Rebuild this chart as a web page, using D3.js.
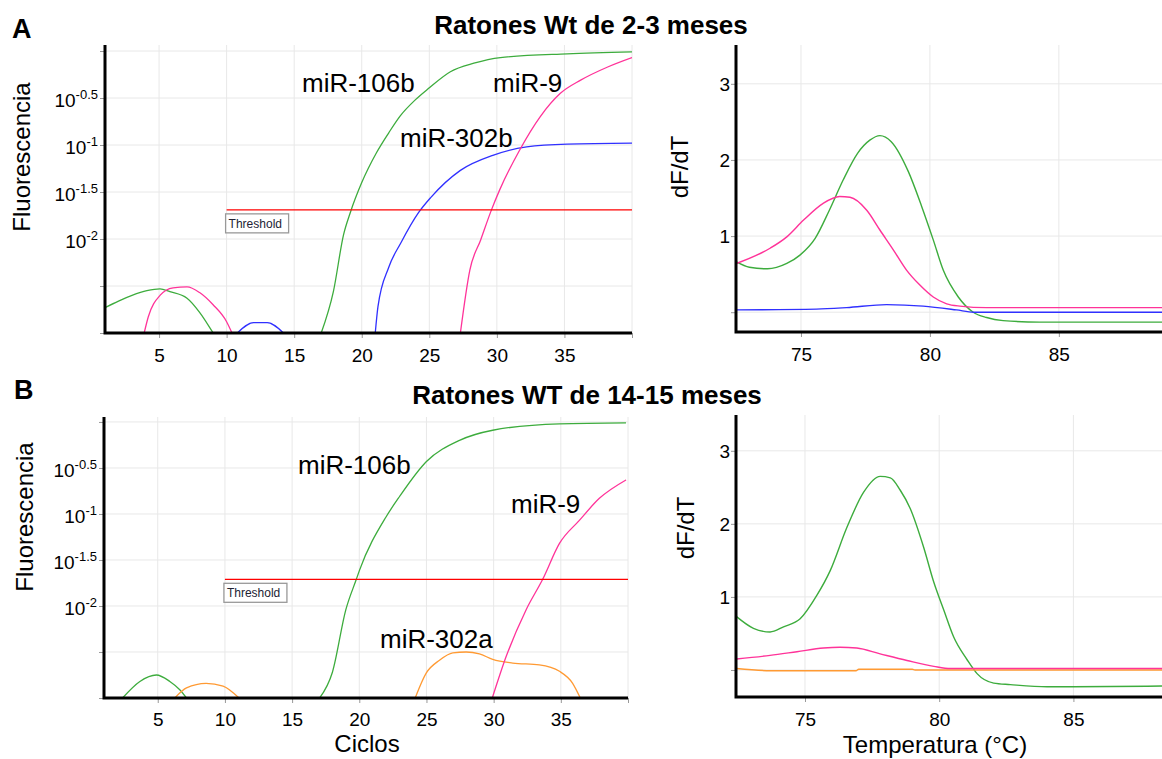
<!DOCTYPE html>
<html>
<head>
<meta charset="utf-8">
<script src="https://cdn.jsdelivr.net/npm/d3@7"></script>
<style>
  body { margin: 0; background: #fff; }
  svg { font-family: "Liberation Sans", Arial, sans-serif; }
</style>
</head>
<body>
<svg id="chart" width="1162" height="759"></svg>
<script>
// tick values
const cycleTicks = [5, 10, 15, 20, 25, 30, 35, 40];
const cycleLabels = [5, 10, 15, 20, 25, 30, 35];
const expTicks = [0, -0.5, -1, -1.5, -2, -2.5, -3];
const expLabels = [-0.5, -1, -1.5, -2];
const tempTicks = [75, 80, 85];
const dfTicks = [0, 1, 2, 3];
const dfLabels = [1, 2, 3];

// threshold (log10 fluorescence)
const thresholdA = -1.69;
const thresholdB = -1.71;

// A: amplification, [cycle, log10 fluorescence]
const a106bEarly = [[1,-2.73],[2,-2.66],[3,-2.6],[4.1,-2.55],[5.07,-2.53],[5.8,-2.56],[7.07,-2.63],[8,-2.78],[9,-3.0]];
const a106b = [[17,-3.0],[17.9,-2.56],[18.66,-1.95],[19.15,-1.72],[20,-1.40],[21.1,-1.08],[22,-0.87],[22.85,-0.69],[23.96,-0.52],[24.93,-0.40],[26.56,-0.22],[28.3,-0.13],[30.26,-0.07],[35.2,-0.03],[40,-0.01]];
const a9Early = [[3.9,-3.0],[4.2,-2.83],[5.07,-2.6],[6.04,-2.52],[7.07,-2.51],[8,-2.57],[9,-2.7],[10,-2.88],[10.4,-3.0]];
const a9 = [[27.3,-3.0],[28,-2.33],[28.8,-2.01],[29.6,-1.69],[30.2,-1.48],[31.7,-1.05],[33.2,-0.70],[34.7,-0.45],[36.2,-0.31],[38.2,-0.17],[40,-0.07]];
const a302bEarly = [[10.8,-3.0],[12,-2.89],[13,-2.89],[14.2,-3.0]];
const a302b = [[21.0,-3.0],[21.2,-2.72],[22,-2.30],[22.9,-2.04],[24.2,-1.72],[25.1,-1.56],[27.3,-1.27],[29.7,-1.11],[32.2,-1.02],[35.2,-0.99],[40,-0.98]];

// B: amplification
const b106bEarly = [[2.38,-3.0],[3.67,-2.82],[4.9,-2.75],[5.9,-2.82],[6.64,-2.91],[7.14,-3.0]];
const b106b = [[17.05,-3.0],[18.0,-2.72],[19.0,-2.04],[19.78,-1.71],[20.02,-1.61],[22,-1.03],[23,-0.81],[25,-0.43],[27.46,-0.20],[29.93,-0.09],[34.9,-0.02],[39.85,-0.01]];
const b302aEarly = [[6.27,-3.0],[7.14,-2.89],[8.6,-2.84],[9.86,-2.87],[11.05,-3.0]];
const b302a = [[24.16,-3.0],[24.98,-2.73],[25.97,-2.59],[26.96,-2.51],[27.95,-2.50],[28.94,-2.52],[29.93,-2.58],[31.42,-2.62],[33.4,-2.64],[34.9,-2.71],[35.88,-2.84],[36.45,-3.0]];
const b9 = [[29.9,-3.0],[30.93,-2.55],[32.42,-2.04],[33.65,-1.71],[34.9,-1.32],[36.38,-1.07],[37.87,-0.83],[39.85,-0.63]];

// A: melting, [temperature, dF/dT]
const m106bA = [[72.5,0.66],[73.0,0.59],[73.7,0.57],[74.45,0.64],[74.96,0.75],[75.55,0.97],[76.1,1.34],[76.64,1.74],[77.2,2.09],[77.67,2.26],[78.06,2.32],[78.5,2.24],[79.16,1.85],[79.68,1.39],[80.13,0.95],[80.52,0.55],[81.1,0.20],[81.68,0.0],[82.2,-0.07],[82.84,-0.11],[84.26,-0.13],[89,-0.13]];
const m9A = [[72.5,0.64],[73.8,0.84],[74.45,0.99],[75.1,1.21],[75.86,1.43],[76.5,1.52],[76.9,1.51],[77.55,1.34],[78.06,1.08],[78.58,0.82],[79.1,0.55],[79.6,0.36],[80.13,0.20],[80.65,0.11],[81.16,0.08],[82.2,0.06],[89,0.06]];
const m302bA = [[72.5,0.03],[75.6,0.04],[76.77,0.06],[78.32,0.10],[79.74,0.08],[81.03,0.03],[81.7,0.0],[89,0.0]];

// B: melting
const m106bB = [[72.45,0.73],[73.08,0.57],[73.7,0.52],[74.2,0.59],[74.82,0.70],[75.44,1.02],[75.94,1.36],[76.56,1.95],[77.18,2.43],[77.8,2.65],[78.18,2.63],[78.55,2.46],[78.92,2.21],[79.42,1.68],[79.8,1.20],[80.17,0.82],[80.54,0.45],[81.04,0.14],[81.41,-0.05],[82.03,-0.18],[82.65,-0.20],[84.02,-0.23],[85,-0.23],[88.3,-0.22]];
const m9B = [[72.45,0.15],[73.7,0.20],[74.7,0.25],[75.69,0.30],[76.3,0.31],[76.93,0.30],[77.8,0.22],[78.8,0.13],[79.8,0.05],[80.42,0.02],[88.3,0.02]];
const m302aB = [[72.45,0.02],[73.7,-0.01],[76.9,-0.01],[77.0,0.01],[79.0,0.01],[79.1,0.0],[88.3,0.0]];

const GREEN = "#3dac3d", PINK = "#ff3399", BLUE = "#3030ff", ORANGE = "#ff9a33", RED = "#ff0000";
const GRID = "#e8e8e8";

const svg = d3.select("#chart");
let clipId = 0;

function frame(x, y, xTicks, xLabels, yTicks, yFmt, opts) {
    const [x0, x1] = x.range(), [y0, y1] = y.range();
    const g = svg.append("g");
    // grid
    g.selectAll(".gx").data(xTicks).enter().append("line")
        .attr("x1", d => x(d)).attr("x2", d => x(d))
        .attr("y1", y0).attr("y2", y1)
        .attr("stroke", GRID).attr("stroke-width", 1);
    g.selectAll(".gy").data(yTicks).enter().append("line")
        .attr("x1", x0).attr("x2", x1)
        .attr("y1", d => y(d)).attr("y2", d => y(d))
        .attr("stroke", GRID).attr("stroke-width", 1);

    const ax = g.append("g").attr("transform", "translate(0," + y0 + ")")
        .call(d3.axisBottom(x).tickValues(xTicks).tickSize(5).tickPadding(opts.xPad)
            .tickFormat(d => xLabels.includes(d) ? d : ""));
    const ay = g.append("g").attr("transform", "translate(" + x0 + ",0)")
        .call(d3.axisLeft(y).tickValues(yTicks).tickSize(5).tickPadding(3).tickFormat(""));
    [ax, ay].forEach(a => {
        a.select(".domain").remove();
        a.selectAll(".tick line").attr("stroke", "#999");
    });
    ax.selectAll("text").style("font-size", "19px").attr("fill", "#000");

    // y labels
    yFmt(g);

    const clip = "clip" + (clipId++);
    svg.append("clipPath").attr("id", clip).append("rect")
        .attr("x", x0).attr("y", y1).attr("width", x1 - x0).attr("height", y0 - y1);
    const plot = svg.append("g").attr("clip-path", "url(#" + clip + ")");

    const axes = svg.append("g");
    axes.append("path")
        .attr("d", "M" + x0 + "," + y1 + "V" + y0 + "H" + x1)
        .attr("fill", "none").attr("stroke", "#000").attr("stroke-width", 3);
    return plot;
}

function drawAmp(cfg) {
    const x = d3.scaleLinear().domain([1, 40]).range(cfg.xr);
    const y = d3.scaleLog().domain([1e-3, Math.pow(10, cfg.top)]).range(cfg.yr);
    const ye = e => y(Math.pow(10, e));
    const plot = frame(x, y, cycleTicks, cycleLabels, expTicks.map(e => Math.pow(10, e)), g => {
        const t = g.selectAll(".yl").data(expLabels).enter().append("text")
            .attr("x", cfg.xr[0] - 7).attr("y", d => ye(d) + 9)
            .attr("text-anchor", "end").style("font-size", "19px");
        t.append("tspan").text("10");
        t.append("tspan").attr("dy", -8).style("font-size", "13px").text(d => String(d));
    }, { xPad: cfg.xPad });

    const line = d3.line().x(d => x(d[0])).y(d => ye(d[1])).curve(d3.curveMonotoneX);
    cfg.series.forEach(s => {
        plot.append("path").datum(s.data).attr("d", line)
            .attr("fill", "none").attr("stroke", s.color).attr("stroke-width", 1.3);
    });
    // threshold
    const ty = ye(cfg.threshold);
    plot.append("line").attr("x1", x(10)).attr("x2", x(40)).attr("y1", ty).attr("y2", ty)
        .attr("stroke", RED).attr("stroke-width", 1.3);
    svg.append("rect").attr("x", x(10) - 1).attr("y", ty + 4).attr("width", 63).attr("height", 19)
        .attr("fill", "#fff").attr("stroke", "#999").attr("stroke-width", 1.3);
    svg.append("text").attr("x", x(10) + 2).attr("y", ty + 18).style("font-size", "12px")
        .attr("fill", "#223").text("Threshold");

    cfg.labels.forEach(l => {
        svg.append("text").attr("x", l[1]).attr("y", l[2]).style("font-size", "26px").text(l[0]);
    });
}

function drawMelt(cfg) {
    const x = d3.scaleLinear().domain(cfg.xd).range([736, 1162]);
    const y = d3.scaleLinear().domain(cfg.yd).range(cfg.yr);
    const plot = frame(x, y, tempTicks, tempTicks, dfTicks, g => {
        g.selectAll(".yl").data(dfLabels).enter().append("text")
            .attr("x", 730).attr("y", d => y(d) + 7)
            .attr("text-anchor", "end").style("font-size", "19px").text(d => d);
    }, { xPad: 11 });
    const line = d3.line().x(d => x(d[0])).y(d => y(d[1])).curve(d3.curveMonotoneX);
    cfg.series.forEach(s => {
        plot.append("path").datum(s.data).attr("d", line)
            .attr("fill", "none").attr("stroke", s.color).attr("stroke-width", 1.4);
    });
}

drawAmp({
    xr: [105, 632], yr: [333, 45], top: 0.064, xPad: 11, threshold: thresholdA,
    series: [
        { data: a106bEarly, color: GREEN }, { data: a9Early, color: PINK }, { data: a302bEarly, color: BLUE },
        { data: a106b, color: GREEN }, { data: a302b, color: BLUE }, { data: a9, color: PINK }
    ],
    labels: [["miR-106b", 302, 92], ["miR-9", 493, 92], ["miR-302b", 400, 147]]
});
drawAmp({
    xr: [104, 628], yr: [698, 417], top: 0.054, xPad: 10, threshold: thresholdB,
    series: [
        { data: b106bEarly, color: GREEN }, { data: b302aEarly, color: ORANGE },
        { data: b106b, color: GREEN }, { data: b302a, color: ORANGE }, { data: b9, color: PINK }
    ],
    labels: [["miR-106b", 298, 474], ["miR-9", 511, 513], ["miR-302a", 380, 648]]
});
drawMelt({
    xd: [72.48, 89.0], yd: [-0.26, 3.51], yr: [332, 45],
    series: [{ data: m106bA, color: GREEN }, { data: m9A, color: PINK }, { data: m302bA, color: BLUE }]
});
drawMelt({
    xd: [72.43, 88.3], yd: [-0.37, 3.49], yr: [697, 415],
    series: [{ data: m106bB, color: GREEN }, { data: m302aB, color: ORANGE }, { data: m9B, color: PINK }]
});

// titles and axis labels
svg.append("text").attr("x", 591).attr("y", 34).attr("text-anchor", "middle")
    .style("font-size", "26px").style("font-weight", "bold").text("Ratones Wt de 2-3 meses");
svg.append("text").attr("x", 587).attr("y", 404).attr("text-anchor", "middle")
    .style("font-size", "26px").style("font-weight", "bold").text("Ratones WT de 14-15 meses");
svg.append("text").attr("x", 12).attr("y", 38).style("font-size", "27px").style("font-weight", "bold").text("A");
svg.append("text").attr("x", 14).attr("y", 399).style("font-size", "27px").style("font-weight", "bold").text("B");

function vlabel(txt, cx, cy) {
    svg.append("text").attr("transform", "translate(" + cx + "," + cy + ") rotate(-90)")
        .attr("text-anchor", "middle").attr("dy", "0.35em").style("font-size", "24px").text(txt);
}
vlabel("Fluorescencia", 22, 157);
vlabel("Fluorescencia", 25, 517);
vlabel("dF/dT", 680, 167);
vlabel("dF/dT", 686, 528);

svg.append("text").attr("x", 367).attr("y", 752).attr("text-anchor", "middle")
    .style("font-size", "24px").text("Ciclos");
svg.append("text").attr("x", 935).attr("y", 753).attr("text-anchor", "middle")
    .style("font-size", "24px").text("Temperatura (°C)");
</script>
</body>
</html>
